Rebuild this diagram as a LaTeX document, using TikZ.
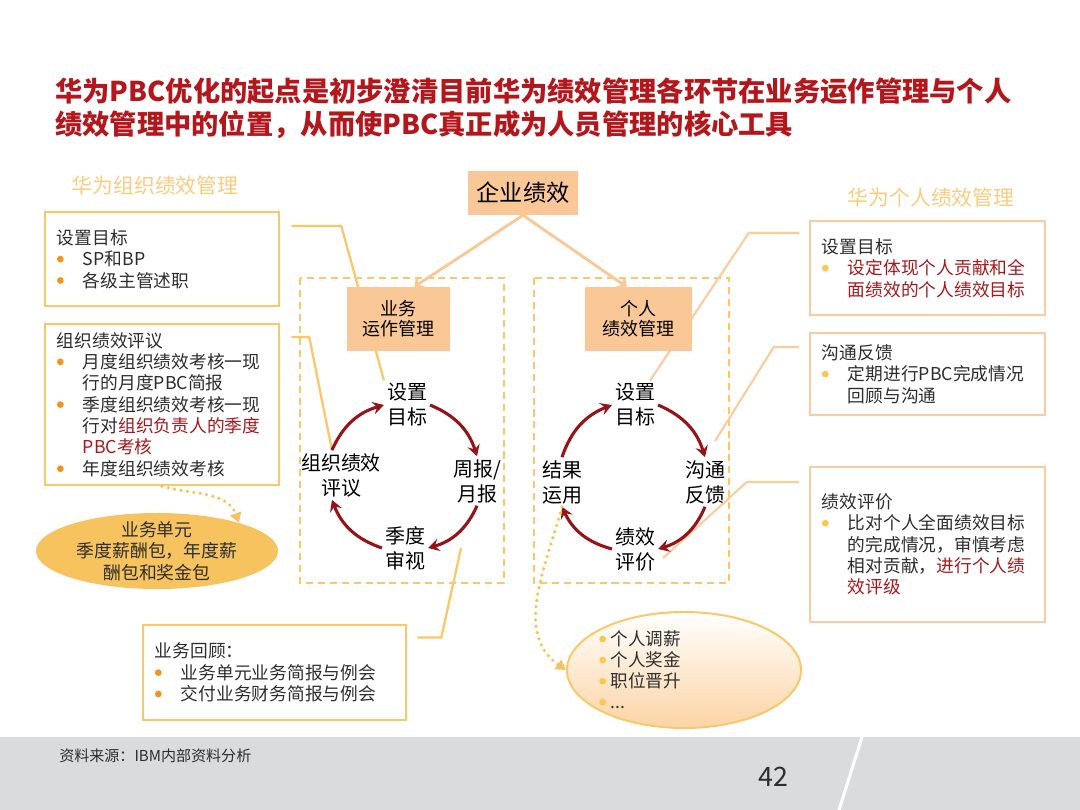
\documentclass[tikz,border=0pt]{standalone}
\usepackage{fontspec}
\setmainfont{Noto Sans CJK SC}
\usetikzlibrary{arrows.meta,positioning,shapes.geometric}

\definecolor{ttlred}{RGB}{180,22,28}
\definecolor{txtred}{RGB}{165,25,30}
\definecolor{txtdark}{RGB}{45,45,45}
\definecolor{boxorg}{RGB}{250,200,105}
\definecolor{boxpch}{RGB}{250,205,160}
\definecolor{fillpch}{RGB}{250,200,150}
\definecolor{dotorg}{RGB}{242,150,25}
\definecolor{dotylw}{RGB}{248,200,80}
\definecolor{headorg}{RGB}{248,205,130}
\definecolor{cycred}{RGB}{150,20,25}
\definecolor{ellorg}{RGB}{247,195,95}
\definecolor{ellpch}{RGB}{252,212,165}
\definecolor{dotline}{RGB}{248,195,95}
\definecolor{ftgray}{RGB}{218,219,220}

\newcommand\orgb{\makebox[18.5pt][l]{\raisebox{2.3pt}{\tikz\fill[dotorg] (0,0) circle (2.4pt);}}}
\newcommand\ylwb{\makebox[18.5pt][l]{\raisebox{2.3pt}{\tikz\fill[dotylw] (0,0) circle (2.4pt);}}}
\newcommand\ellb{\makebox[8.2pt][l]{\raisebox{2.3pt}{\tikz\fill[dotylw] (0,0) circle (2.4pt);}}}
\newcommand\bind{\hspace*{18.5pt}}

\tikzset{
  infobox/.style={line width=1.8pt,align=left,inner xsep=8.5pt,inner ysep=0pt,text=txtdark,
    font=\fontsize{12.6pt}{15.2pt}\selectfont},
  cyctxt/.style={align=center,inner sep=2pt,text=black,font=\fontsize{14.2pt}{17.8pt}\selectfont},
  pchbox/.style={fill=fillpch,align=center,inner sep=0pt,text=black},
  headtxt/.style={text=headorg,font=\fontsize{14.8pt}{17pt}\selectfont},
  cycarr/.style={cycred,line width=2.2pt,-{Stealth[length=8pt,width=9pt,inset=3pt]}},
  toparr/.style={fillpch,line width=2pt,-{Straight Barb[length=4pt,width=9pt]}},
  lnkl/.style={boxorg,line width=1.6pt},
  lnkr/.style={boxpch,line width=1.5pt},
  grpbox/.style={boxorg,line width=1.3pt,dash pattern=on 5pt off 3.5pt},
  dotarr/.style={dotline,line width=2.6pt,line cap=round,dash pattern=on 0pt off 4.6pt,
    -{Triangle[length=7pt,width=8pt]}}
}

\begin{document}
\begin{tikzpicture}[x=0.025cm,y=0.025cm]
\fill[white] (0,0) rectangle (1080,-810);
\useasboundingbox (0,0) rectangle (1080,-810);
\fill[ftgray] (0,-737) rectangle (1080,-810);
\draw[white,line width=2.2pt] (862,-737) -- (839,-810);

\node[anchor=west,align=left,inner sep=0pt,text=ttlred,font=\bfseries\fontsize{19.4pt}{23.5pt}\selectfont] (title) at (55,-108)
  {华为PBC优化的起点是初步澄清目前华为绩效管理各环节在业务运作管理与个人\\绩效管理中的位置，从而使PBC真正成为人员管理的核心工具};
\node[headtxt] (lhead) at (155,-186) {华为组织绩效管理};
\node[headtxt] (rhead) at (931,-198) {华为个人绩效管理};

\node[cyctxt] (lset) at (407,-405) {设置\\目标};
\node[cyctxt] (lrep) at (477,-481) {周报/\\月报};
\node[cyctxt] (lrev) at (405,-548) {季度\\审视};
\node[cyctxt] (lorg) at (341,-475) {组织绩效\\评议};
\node[cyctxt] (rset) at (635,-405) {设置\\目标};
\node[cyctxt] (rfb) at (705,-482) {沟通\\反馈};
\node[cyctxt] (reval) at (635,-549) {绩效\\评价};
\node[cyctxt] (ruse) at (562,-482) {结果\\运用};

\node[infobox,draw=boxorg,text width=5.25cm,minimum height=2.35cm] (l1) at (162,-259)
  {设置目标\\\orgb SP和BP\\\orgb 各级主管述职};
\node[infobox,draw=boxorg,text width=5.25cm,minimum height=4.025cm] (l2) at (162,-404.5)
  {组织绩效评议\\\orgb 月度组织绩效考核一现\\\bind 行的月度PBC简报\\\orgb 季度组织绩效考核一现\\\bind 行对\textcolor{txtred}{组织负责人的季度}\\\bind\textcolor{txtred}{PBC考核}\\\orgb 年度组织绩效考核};
\node[infobox,draw=boxorg,text width=5.975cm,minimum height=2.375cm] (l3) at (274.5,-672.5)
  {业务回顾：\\\orgb 业务单元业务简报与例会\\\orgb 交付业务财务简报与例会};
\node[infobox,draw=boxpch,text width=5.275cm,minimum height=2.35cm] (r1) at (927.5,-268)
  {设置目标\\\ylwb\textcolor{txtred}{设定体现个人贡献和全}\\\bind\textcolor{txtred}{面绩效的个人绩效目标}};
\node[infobox,draw=boxpch,text width=5.275cm,minimum height=2.05cm] (r2) at (927.5,-374)
  {沟通反馈\\\ylwb 定期进行PBC完成情况\\\bind 回顾与沟通};
\node[infobox,draw=boxpch,text width=5.275cm,minimum height=3.875cm] (r3) at (927.5,-544.5)
  {绩效评价\\\ylwb 比对个人全面绩效目标\\\bind 的完成情况，审慎考虑\\\bind 相对贡献，\textcolor{txtred}{进行个人绩}\\\bind\textcolor{txtred}{效评级}};

\node[ellipse,fill=ellorg,minimum width=6.05cm,minimum height=1.9cm,inner sep=0pt] (lell) at (157,-551) {};
\node[align=center,inner sep=0pt,text=txtdark,font=\fontsize{12.7pt}{15.3pt}\selectfont] (lelltxt) at (lell)
  {业务单元\\季度薪酬包，年度薪\\酬包和奖金包};
\node[ellipse,draw=boxorg,line width=1.4pt,top color=white,bottom color=ellpch,minimum width=5.85cm,minimum height=2.9cm,inner sep=0pt] (rell) at (684,-670) {};
\node[anchor=west,align=left,inner sep=0pt,text=txtdark,font=\fontsize{12.5pt}{15pt}\selectfont] (relltxt) at (599,-670)
  {\ellb 个人调薪\\\ellb 个人奖金\\\ellb 职位晋升\\\ellb ...};

\draw[grpbox] (300,-278) rectangle (504,-583);
\draw[grpbox] (534,-278) rectangle (729,-583);

\draw[lnkl] ([xshift=0.275cm,yshift=0.825cm]l1.east) -- ++(1.25cm,0) -- (lset.north west);
\draw[lnkl] ([xshift=0.275cm,yshift=1.6875cm]l2.east) -- ++(0.45cm,0) -- (lorg.110);
\draw[lnkl] ([xshift=0.25cm,yshift=0.875cm]l3.east) -- ++(0.6cm,0) -- ([xshift=0.825cm]lrev.east);
\draw[lnkr] ([xshift=-0.25cm,yshift=0.875cm]r1.west) -- ++(-1.25cm,0) -- ([xshift=-0.2cm]rset.north east);
\draw[lnkr] ([xshift=-0.25cm,yshift=0.675cm]r2.west) -- ++(-0.625cm,0) -- ([xshift=0.25cm,yshift=0.4cm]rfb.north);
\draw[lnkr] ([xshift=-0.25cm,yshift=1.5625cm]r3.west) -- ++(-1.3cm,0) -- ([xshift=0.125cm,yshift=-0.225cm]reval.east);

\node[pchbox,minimum width=2.75cm,minimum height=1.1cm,font=\fontsize{16.5pt}{19pt}\selectfont] (qy) at (523,-193) {企业绩效};
\node[pchbox,minimum width=2.575cm,minimum height=1.6cm,font=\fontsize{12.8pt}{14.2pt}\selectfont] (yw) at (398.5,-319) {业务\\运作管理};
\node[pchbox,minimum width=2.675cm,minimum height=1.6cm,font=\fontsize{12.8pt}{14.2pt}\selectfont] (gr) at (638.5,-319) {个人\\绩效管理};

\draw[toparr] (qy.south) -- ([xshift=0.4cm]yw.north);
\draw[toparr] (qy.south) -- ([xshift=-0.3cm]gr.north);

\draw[cycarr] (lorg.110) to[bend left=25] (lset.west);
\draw[cycarr] (lset.east) to[bend left=25] (lrep.north);
\draw[cycarr] (lrep.south) to[bend left=25] (lrev.east);
\draw[cycarr] (lrev.west) to[bend left=25] (lorg.-110);
\draw[cycarr] (ruse.north) to[bend left=25] (rset.west);
\draw[cycarr] (rset.east) to[bend left=25] (rfb.north);
\draw[cycarr] (rfb.south) to[bend left=25] (reval.east);
\draw[cycarr] (reval.west) to[bend left=25] (ruse.south);

\draw[dotarr] (l2.south) to[out=-15,in=110] (lell.19);
\draw[dotarr] (ruse.south) to[out=-105,in=145] (rell.west);

\node[anchor=west,inner sep=0pt,text=txtdark,font=\fontsize{10.7pt}{12pt}\selectfont] (src) at (59,-756) {资料来源：IBM内部资料分析};
\node[inner sep=0pt,text=txtdark,font=\fontsize{19pt}{22pt}\selectfont] (pgno) at (773,-777) {42};
\end{tikzpicture}
\end{document}
